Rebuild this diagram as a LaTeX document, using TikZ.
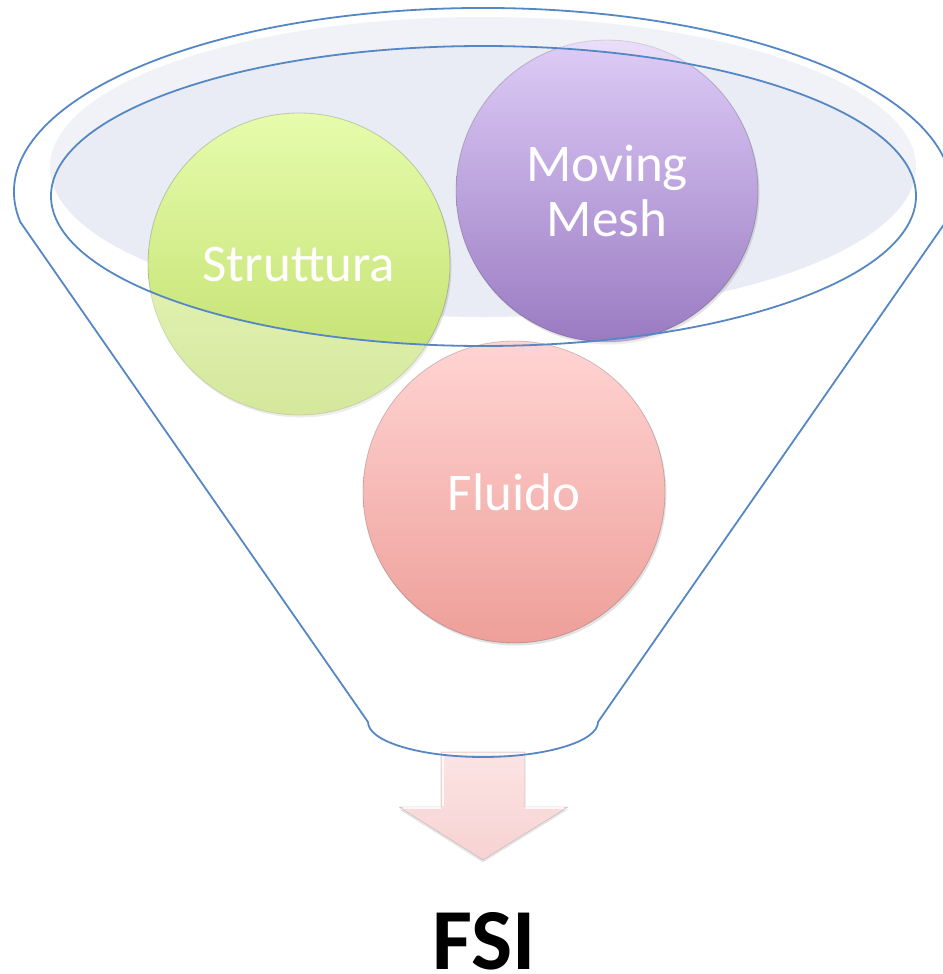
\documentclass[tikz,border=0pt]{standalone}
\usepackage{fontspec}
\setmainfont{Carlito}
\usetikzlibrary{shadows}

\definecolor{funnelline}{HTML}{5587C4}
\definecolor{rimfill}{HTML}{E9ECF4}
\definecolor{greentop}{HTML}{E6FCAC}
\definecolor{greenbot}{HTML}{BFDC68}
\definecolor{purpletop}{HTML}{DECCF7}
\definecolor{purplebot}{HTML}{9A7BC2}
\definecolor{pinktop}{HTML}{FFD4D3}
\definecolor{pinkbot}{HTML}{EE9F99}
\definecolor{arrowtop}{HTML}{FCE4E4}
\definecolor{arrowbot}{HTML}{F7D2D2}

\tikzset{
  ball/.style={circle, minimum size=302pt, inner sep=0pt, align=center,
    text=white, font=\fontsize{53}{55}\selectfont,
    draw=black, draw opacity=0.18, line width=0.8pt,
    drop shadow={opacity=0.22, shadow xshift=1.5pt, shadow yshift=-2.5pt}},
  outline/.style={draw=funnelline, line width=1.8pt, line join=round},
}

% funnel body: top arc, two sides and the rounded spout
\def\funnelpath{(20.3,-222) arc[start angle=189.4, end angle=-9.4,
      x radius=469pt, y radius=184pt]
  -- (598,-722) arc[start angle=0, end angle=-180, x radius=115pt, y radius=35pt]
  -- cycle}
\def\rimpath{(483.5,-196) ellipse[x radius=432.5pt, y radius=150pt]}

\begin{document}
\begin{tikzpicture}[x=1pt, y=1pt]
\useasboundingbox (0,0) rectangle (942,-974);

% liquid surface inside the mouth
\fill[rimfill] (483,-167) ellipse[x radius=433pt, y radius=150pt];

% items poured into the funnel
\node[ball, top color=greentop, bottom color=greenbot] (struttura) at (299,-264) {Struttura};
\node[ball, top color=purpletop, bottom color=purplebot] (mesh) at (607,-191) {Moving\\Mesh};

% translucent glass of the funnel below/around the rim
\fill[white, fill opacity=0.35, even odd rule] \funnelpath \rimpath;

\node[ball, top color=pinktop, bottom color=pinkbot] (fluido) at (514,-492) {Fluido};

% output arrow
\path[top color=arrowtop, bottom color=arrowbot, draw=black, draw opacity=0.15,
      line width=0.6pt, line join=round,
      drop shadow={opacity=0.2, shadow xshift=0pt, shadow yshift=-2.5pt}]
  (441,-752) -- (525,-752) -- (525,-807) -- (568,-807) -- (483,-860)
  -- (399,-807) -- (441,-807) -- cycle;
% light bevel along the upper edges of the arrow
\draw[white, line width=1.5pt, opacity=0.8, line join=round]
  (443,-806) -- (443,-754) -- (523,-754);
\draw[white, line width=1.5pt, opacity=0.8, line join=round]
  (403,-808) -- (441,-808);
\draw[white, line width=1.5pt, opacity=0.8, line join=round]
  (525,-808) -- (564,-808);
\coordinate (spout) at (483,-757);
\coordinate (tip) at (483,-860);

% funnel outlines
\draw[outline] \funnelpath;
\draw[outline] \rimpath;

\node[anchor=base, font=\bfseries\fontsize{87}{87}\selectfont, inner sep=0pt] (fsi) at (484.5,-969) {FSI};
\end{tikzpicture}
\end{document}
